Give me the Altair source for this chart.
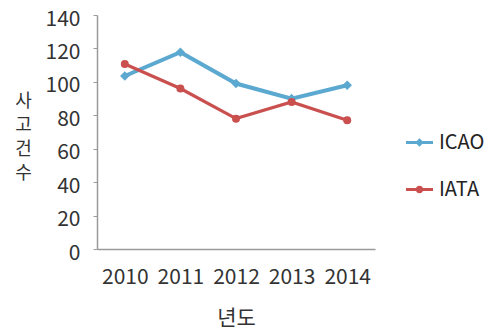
import altair as alt
import pandas as pd

years = ["2010", "2011", "2012", "2013", "2014"]
icao = [103.5, 117.7, 99.0, 90.0, 98.0]
iata = [110.7, 96.0, 78.0, 88.0, 77.0]
series = ["ICAO", "IATA"]
colors = ["#5BA8D0", "#C9504F"]
y_ticks = [0, 20, 40, 60, 80, 100, 120, 140]

rows = []
for s, vals in zip(series, [icao, iata]):
    for yr, v in zip(years, vals):
        rows.append({"년도": yr, "사고건수": v, "series": s})
df = pd.DataFrame(rows)

FONT = "Noto Sans CJK KR"

# legend glyphs: short line with a marker in the middle (filled shapes)
legend_diamond = "M-1,-0.11H1V0.11H-1Z M0,-0.32L0.32,0L0,0.32L-0.32,0Z"
legend_circle = "M-1,-0.11H1V0.11H-1Z M0.28,0A0.28,0.28,0,1,1,-0.28,0A0.28,0.28,0,1,1,0.28,0Z"

x_enc = alt.X(
    "년도:O",
    sort=years,
    scale=alt.Scale(type="point", padding=0.5),
    axis=alt.Axis(
        title="년도",
        labelAngle=0,
        ticks=False,
        labelPadding=17,
        labelFontSize=21,
        labelColor="#333333",
        labelFont=FONT,
        titleFont=FONT,
        titleFontSize=21,
        titleFontWeight="normal",
        titleColor="#333333",
        titlePadding=20,
        domainColor="#9a9a9a",
        domainWidth=1.5,
    ),
)

y_enc = alt.Y(
    "사고건수:Q",
    scale=alt.Scale(domain=[0, 140], nice=False),
    axis=alt.Axis(
        values=y_ticks,
        title=["사", "고", "건", "수"],
        titleAngle=0,
        titleAlign="center",
        titleBaseline="middle",
        titleX=-74,
        titleY=86,
        titleLineHeight=24,
        titleFont=FONT,
        titleFontSize=18,
        titleFontWeight="normal",
        titleColor="#333333",
        grid=False,
        tickSize=4,
        tickColor="#9a9a9a",
        labelPadding=13,
        labelOffset=4,
        labelFontSize=21,
        labelFont=FONT,
        labelColor="#333333",
        domainColor="#9a9a9a",
        domainWidth=1.5,
    ),
)

legend = alt.Legend(
    title=None,
    orient="none",
    legendX=309,
    legendY=114,
    padding=0,
    labelFont=FONT,
    labelFontSize=20,
    labelColor="#222222",
    labelOffset=6,
    rowPadding=23,
    symbolSize=729,
    symbolOpacity=1,
    symbolStrokeWidth=0,
)

base = alt.Chart(df)

layers = []
widths = [4, 3.2]
shapes = ["diamond", "circle"]
sizes = [90, 64]
for s, c, w in zip(series, colors, widths):
    sub = base.transform_filter(alt.datum.series == s)
    layers.append(
        sub.mark_line(color=c, strokeWidth=w).encode(x=x_enc, y=y_enc)
    )
for s, c, shp, sz in zip(series, colors, shapes, sizes):
    sub = base.transform_filter(alt.datum.series == s)
    layers.append(
        sub.mark_point(filled=True, opacity=1, shape=shp, size=sz, color=c).encode(
            x=x_enc, y=y_enc
        )
    )

# carries the legend only: its own marks are drawn with size 0
legend_layer = base.mark_point(filled=True, opacity=1, size=0).encode(
    x=x_enc,
    y=y_enc,
    color=alt.Color(
        "series:N", scale=alt.Scale(domain=series, range=colors), sort=series, legend=legend
    ),
    shape=alt.Shape(
        "series:N",
        scale=alt.Scale(domain=series, range=[legend_diamond, legend_circle]),
        sort=series,
        legend=legend,
    ),
)
layers.append(legend_layer)

chart = (
    alt.layer(*layers)
    .properties(
        width=278,
        height=234,
        autosize=alt.AutoSizeParams(type="none"),
        padding={"left": 97, "top": 15, "right": 122, "bottom": 83},
        background="white",
    )
    .configure_view(stroke=None)
)

chart.save("out.html", embed_options={"renderer": "svg", "actions": False})
